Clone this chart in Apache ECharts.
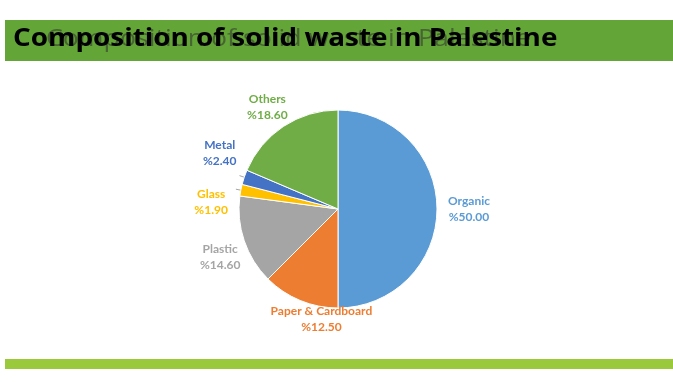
<!DOCTYPE html>
<html>
<head>
<meta charset="utf-8">
<script src="https://cdn.jsdelivr.net/npm/echarts@6/dist/echarts.min.js"></script>
<style>
html,body{margin:0;padding:0;background:#fff;}
#c{width:673px;height:385px;}
</style>
</head>
<body>
<div id="c"></div>
<script>
const titleText = 'Composition of solid waste in Palestine';
const categories = ['Organic', 'Paper & Cardboard', 'Plastic', 'Glass', 'Metal', 'Others'];
const values = [50.0, 12.5, 14.6, 1.9, 2.4, 18.6];
const colors = ['#5B9BD5', '#ED7D31', '#A5A5A5', '#FFC000', '#4472C4', '#70AD47'];
const withLine = ['Glass', 'Metal'];
// label nudges (styling): shift from ECharts default outside position
const labelNudge = {
  'Organic': [1, 0],
  'Paper & Cardboard': [79, 14],
  'Plastic': [6, 15],
  'Glass': [-3, 13],
  'Metal': [2, -22],
  'Others': [12, -15]
};

const chart = echarts.init(document.getElementById('c'), null, {renderer: 'canvas'});
const FONT = 'Lato';
const TFONT = '"Open Sans"';

const data = categories.map((name, i) => ({
  name: name,
  value: values[i],
  itemStyle: {color: colors[i]},
  label: {color: colors[i]},
  labelLine: {show: withLine.indexOf(name) >= 0, lineStyle: {color: '#A6A6A6', width: 1}}
}));

chart.setOption({
  animation: false,
  backgroundColor: '#ffffff',
  graphic: [
    {type: 'rect', z: 0, shape: {x: 5, y: 20, width: 668, height: 41}, style: {fill: '#63A537'}},
    {type: 'rect', z: 0, shape: {x: 5, y: 359, width: 668, height: 10}, style: {fill: '#9ACA3C'}},
    {type: 'text', z: 1, x: 46, y: 28, scaleX: 1.16, style: {text: titleText, font: 'normal 23px ' + TFONT, fill: 'rgba(50,50,50,0.55)', verticalAlign: 'top'}},
    {type: 'text', z: 2, x: 13, y: 26, scaleX: 1.115, style: {text: titleText, font: 'bold 25px ' + TFONT, fill: '#000000', verticalAlign: 'top'}}
  ],
  series: [{
    type: 'pie',
    center: [338, 209],
    radius: 99,
    startAngle: 90,
    clockwise: true,
    avoidLabelOverlap: false,
    itemStyle: {borderColor: '#ffffff', borderWidth: 1},
    label: {
      show: true,
      position: 'outside',
      fontFamily: FONT,
      fontWeight: 'bold',
      fontSize: 12,
      lineHeight: 16,
      distanceToLabelLine: 5,
      formatter: function (p) {
        return '{t|' + p.name + '}\n{t|%' + p.value.toFixed(2) + '}';
      },
      rich: {t: {align: 'center', fontFamily: FONT, fontWeight: 'bold', fontSize: 12, lineHeight: 16}}
    },
    labelLine: {show: false, length: 5, length2: 0, smooth: false},
    labelLayout: function (params) {
      const n = labelNudge[categories[params.dataIndex]] || [0, 0];
      return {dx: n[0], dy: n[1]};
    },
    data: data
  }]
});
</script>
</body>
</html>
